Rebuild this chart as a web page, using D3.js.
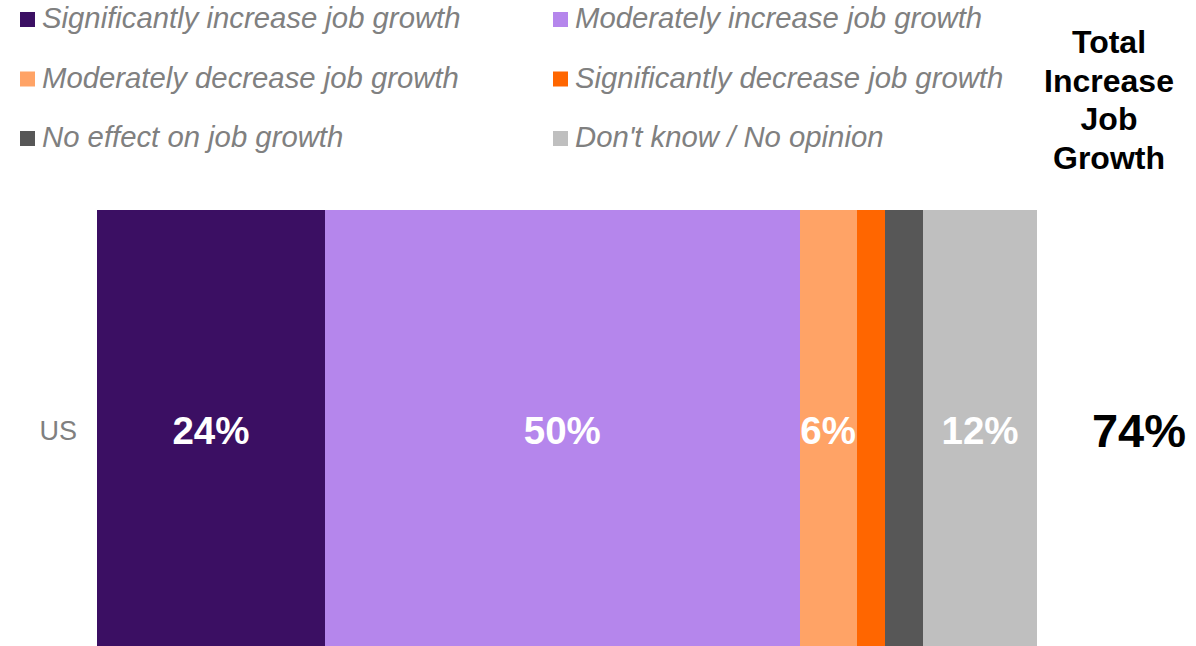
<!DOCTYPE html>
<html>
<head>
<meta charset="utf-8">
<script src="https://cdn.jsdelivr.net/npm/d3@7"></script>
<style>
  html, body { margin: 0; padding: 0; background: #ffffff; }
  svg { display: block; font-family: "Liberation Sans", Arial, sans-serif; }
</style>
</head>
<body>
<svg id="chart" width="1196" height="646"></svg>
<script>
// Survey responses: effect on job growth
const categories = ["US"];
const seriesNames = [
  "Significantly increase job growth",
  "Moderately increase job growth",
  "Moderately decrease job growth",
  "Significantly decrease job growth",
  "No effect on job growth",
  "Don't know / No opinion"
];
const seriesColors = ["#3b0f63", "#b586ec", "#ffa366", "#ff6600", "#575757", "#bfbfbf"];
const usValues = [24, 50, 6, 3, 4, 12];
const totalIncrease = [74];
const totalTitle = ["Total", "Increase", "Job", "Growth"];

const svg = d3.select("#chart");

// Scales
const total = d3.sum(usValues);
const x = d3.scaleLinear().domain([0, total]).range([97, 1037]);
const y = d3.scaleBand().domain(categories).range([210, 652]).padding(0);

// Stacked segments
const stacked = [];
let acc = 0;
usValues.forEach((v, i) => {
  stacked.push({ name: seriesNames[i], color: seriesColors[i], v, x0: acc, x1: acc + v });
  acc += v;
});

const bar = svg.append("g");
bar.selectAll("rect")
  .data(stacked)
  .join("rect")
  .attr("x", d => x(d.x0))
  .attr("y", y("US"))
  .attr("width", d => x(d.x1) - x(d.x0))
  .attr("height", y.bandwidth())
  .attr("fill", d => d.color)
  .attr("shape-rendering", "crispEdges");

// Value labels on segments wide enough to hold them
bar.selectAll("text")
  .data(stacked.filter(d => d.v >= 5))
  .join("text")
  .attr("x", d => (x(d.x0) + x(d.x1)) / 2)
  .attr("y", y("US") + y.bandwidth() / 2)
  .attr("dy", "0.35em")
  .attr("text-anchor", "middle")
  .attr("fill", "#ffffff")
  .attr("font-weight", "bold")
  .attr("font-size", 38.5)
  .text(d => d.v + "%");

// Category axis (label only)
const yAxis = d3.axisLeft(y).tickSize(0).tickPadding(20);
const yg = svg.append("g").attr("transform", `translate(${x(0)},0)`).call(yAxis);
yg.select(".domain").remove();
yg.selectAll("text")
  .attr("font-size", 27)
  .attr("fill", "#808080")
  .attr("font-family", "Liberation Sans, Arial, sans-serif");

// Legend: two columns, three rows
const legend = svg.append("g");
const legendItems = legend.selectAll("g")
  .data(seriesNames.map((n, i) => ({ n, c: seriesColors[i], col: i % 2, row: Math.floor(i / 2) })))
  .join("g")
  .attr("transform", d => `translate(${d.col === 0 ? 20 : 553},${28 + d.row * 59.5})`);
legendItems.append("rect")
  .attr("x", 0).attr("y", -16)
  .attr("width", 15).attr("height", 15)
  .attr("fill", d => d.c);
legendItems.append("text")
  .attr("x", 22).attr("y", 0)
  .attr("font-size", 29.3)
  .attr("font-style", "italic")
  .attr("fill", "#808080")
  .text(d => d.n);

// Total column
const totalG = svg.append("g");
totalG.selectAll("text")
  .data(totalTitle)
  .join("text")
  .attr("x", 1109)
  .attr("y", (d, i) => 53 + i * 38.5)
  .attr("text-anchor", "middle")
  .attr("font-weight", "bold")
  .attr("font-size", 32)
  .attr("fill", "#000000")
  .text(d => d);

svg.append("text")
  .attr("x", 1139)
  .attr("y", y("US") + y.bandwidth() / 2)
  .attr("dy", "0.35em")
  .attr("text-anchor", "middle")
  .attr("font-weight", "bold")
  .attr("font-size", 47)
  .attr("fill", "#000000")
  .text(totalIncrease[0] + "%");
</script>
</body>
</html>
